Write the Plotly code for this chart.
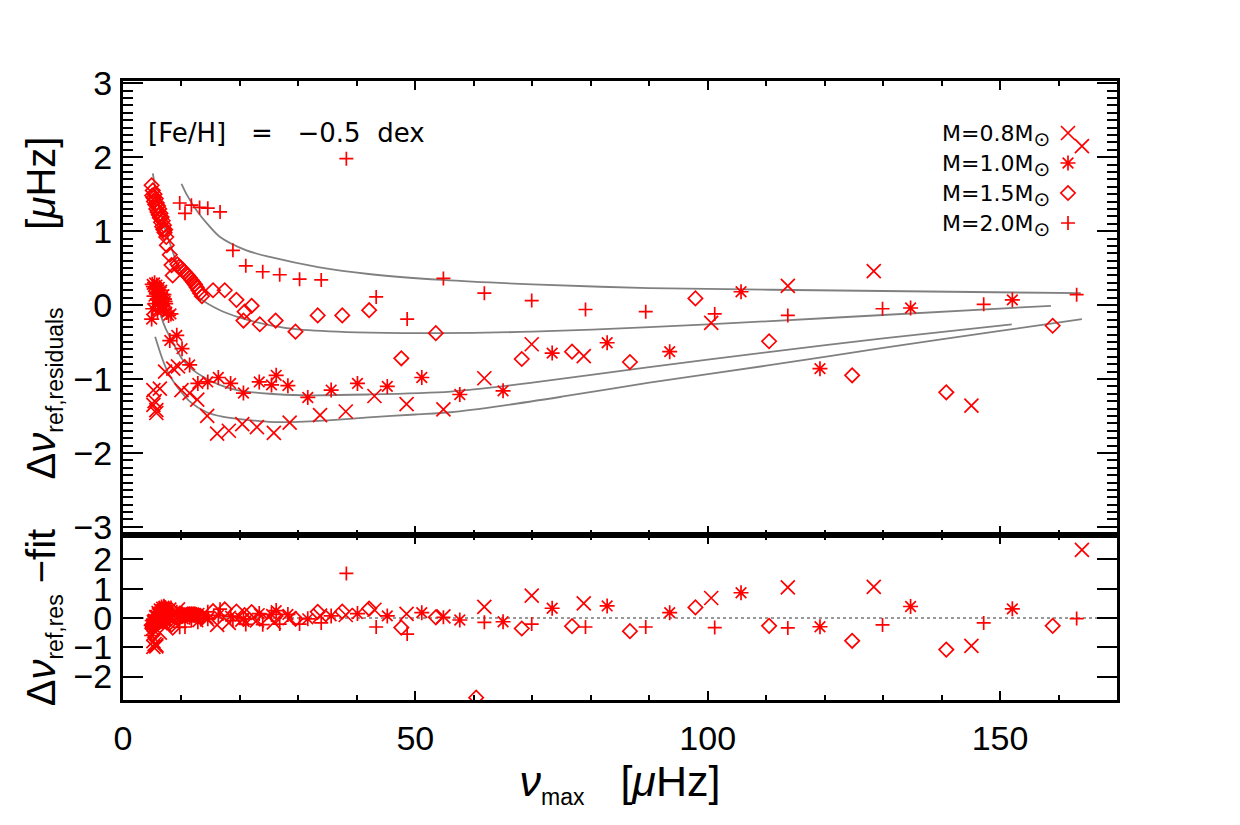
import plotly.graph_objects as go

# ---------------- data ----------------
# M = 0.8 Msun  (x symbols)
nu_08 = [5.2, 6.3, 5.2, 5.7, 5.7, 5.4, 7.2, 8.6, 9.4, 10.0, 11.4, 12.7, 14.4, 16.1, 18.1, 20.4,
         22.9, 25.8, 28.5, 33.7, 38.1, 43.0, 48.5, 54.8, 61.8, 69.9, 78.8, 100.6, 113.7, 128.4,
         145.1, 164.0]
res_08 = [-1.15, -1.13, -1.35, -1.42, -1.46, -1.30, -0.90, -0.86, -0.83, -1.15, -1.19, -1.28,
          -1.50, -1.74, -1.70, -1.61, -1.65, -1.73, -1.59, -1.49, -1.44, -1.23, -1.34, -1.41,
          -0.99, -0.53, -0.69, -0.24, 0.26, 0.46, -1.36, 2.15]
dfit_08 = [-0.79, -0.50, -0.99, -0.93, -0.97, -0.89, -0.04, 0.17, 0.29, 0.03, 0.11, 0.10, -0.05,
           -0.24, -0.17, -0.06, -0.08, -0.15, -0.01, 0.08, 0.10, 0.28, 0.14, 0.05, 0.38, 0.76,
           0.50, 0.68, 1.04, 1.06, -0.95, 2.32]

# M = 1.0 Msun  (asterisks)
nu_10 = [5.0, 5.2, 5.4, 5.6, 5.8, 6.0, 6.2, 6.4, 6.6, 6.8, 7.0, 7.2, 5.1, 5.5, 5.9, 6.3, 6.7, 7.1,
         7.5, 5.3, 5.7, 6.1, 6.5, 6.9, 7.3, 7.8, 8.2, 4.9,
         8.0, 9.2, 10.1, 11.4, 12.8, 14.5, 16.3, 18.4, 20.6, 23.3, 25.4, 26.2, 28.2, 31.6, 35.6,
         40.1, 45.2, 51.1, 57.6, 65.0, 73.4, 82.8, 93.5, 105.7, 119.2, 134.7, 152.1]
res_10 = [0.28, 0.25, 0.30, 0.22, 0.27, 0.18, 0.24, 0.15, 0.20, 0.10, 0.14, 0.05, -0.05, 0.02,
          -0.08, 0.05, -0.02, 0.08, -0.10, 0.12, 0.15, 0.08, 0.00, -0.06, 0.02, -0.14, -0.12, -0.19,
          -0.48, -0.41, -0.59, -0.81, -1.06, -1.04, -0.98, -1.06, -1.19, -1.04, -1.08, -0.95, -1.09,
          -1.25, -1.15, -1.06, -1.10, -0.98, -1.21, -1.16, -0.65, -0.51, -0.63, 0.18, -0.86, -0.04,
          0.07]
dfit_10 = [-0.09, -0.04, 0.09, 0.09, 0.22, 0.19, 0.31, 0.27, 0.37, 0.31, 0.40, 0.35, -0.38, -0.15,
           -0.10, 0.15, 0.17, 0.36, 0.25, -0.13, 0.06, 0.12, 0.15, 0.18, 0.34, 0.26, 0.34, -0.60,
           -0.05, 0.19, 0.14, 0.02, -0.13, -0.03, 0.09, 0.06, -0.03, 0.15, 0.12, 0.25, 0.12, -0.03,
           0.07, 0.15, 0.07, 0.18, -0.07, -0.13, 0.33, 0.41, 0.18, 0.86, -0.30, 0.39, 0.31]

# M = 1.5 Msun  (diamonds)
nu_15 = [4.9, 5.0, 5.1, 5.2, 5.3, 5.4, 5.5, 5.6, 5.7, 5.8, 5.9, 6.0, 6.1, 6.2, 6.3, 6.4, 6.5, 6.6,
         6.7, 6.8, 6.9, 7.0, 7.1, 7.2, 7.4, 7.5, 8.0, 8.3, 8.5,
         9.3, 9.6, 9.9, 10.2, 10.5, 10.8, 11.1, 11.4, 11.7, 12.0, 12.3, 12.6, 12.9, 13.2, 13.5,
         15.4, 17.4, 19.4, 20.8, 22.0, 20.6, 23.4, 26.1, 29.5, 33.3, 37.5, 42.1, 47.6, 53.5, 60.4,
         68.2, 76.8, 86.7, 97.9, 110.5, 124.7, 140.8, 159.0]
res_15 = [1.62, 1.48, 1.55, 1.45, 1.40, 1.50, 1.36, 1.44, 1.30, 1.38, 1.26, 1.34, 1.22, 1.30,
          1.18, 1.24, 1.12, 1.19, 1.06, 1.14, 1.02, 1.08, 0.98, 1.02, 0.92, 0.81, 0.68, 0.54, 0.40,
          0.55, 0.52, 0.50, 0.47, 0.45, 0.42, 0.40, 0.37, 0.34, 0.31, 0.28, 0.24, 0.20, 0.16, 0.12,
          0.20, 0.20, 0.07, -0.09, -0.01, -0.21, -0.26, -0.21, -0.36, -0.14, -0.14, -0.07, -0.72,
          -0.38, -3.20, -0.73, -0.63, -0.77, 0.09, -0.49, -0.95, -1.18, -0.28]
dfit_15 = [-0.25, -0.35, -0.23, -0.28, -0.29, -0.14, -0.24, -0.11, -0.21, -0.09, -0.17, -0.06,
           -0.14, -0.02, -0.10, -0.01, -0.10, 0.00, -0.10, 0.00, -0.09, 0.00, -0.08, -0.01, -0.06,
           -0.15, -0.16, -0.23, -0.33,
           0.00, 0.03, 0.05, 0.07, 0.09, 0.10, 0.12, 0.12, 0.12, 0.12, 0.12, 0.10, 0.09, 0.07, 0.04,
           0.23, 0.29, 0.22, 0.10, 0.20, -0.03, -0.02, 0.07, -0.03, 0.21, 0.22, 0.32, -0.33, 0.02,
           -2.72, -0.36, -0.28, -0.45, 0.36, -0.27, -0.78, -1.08, -0.27]

# M = 2.0 Msun  (plus signs)
nu_20 = [9.7, 10.6, 11.7, 13.1, 14.5, 16.6, 18.8, 21.0, 23.9, 26.8, 30.2, 33.9, 38.2, 43.3, 48.6,
         54.8, 61.8, 69.9, 79.1, 89.4, 101.2, 113.7, 129.9, 147.2, 163.1]
res_20 = [1.38, 1.24, 1.35, 1.32, 1.31, 1.26, 0.74, 0.53, 0.45, 0.41, 0.35, 0.34, 1.98, 0.11,
          -0.19, 0.36, 0.16, 0.06, -0.06, -0.09, -0.12, -0.14, -0.05, 0.01, 0.14]
dfit_20 = [-0.32, -0.31, -0.07, 0.09, 0.21, 0.30, -0.09, -0.22, -0.23, -0.21, -0.21, -0.17, 1.52,
           -0.31, -0.55, 0.02, -0.15, -0.21, -0.31, -0.31, -0.33, -0.34, -0.24, -0.17, -0.02]

# fitted relations (grey curves)
fitx_08 = [5.5, 6.6, 7.5, 8.6, 9.7, 11.5, 14.3, 17.0, 19.5, 22.0, 25.0, 30.0, 35.0, 42.0, 50.0,
           56.0, 65.0, 75.0, 90.0, 110.0, 130.0, 150.0, 164.0]
fity_08 = [-0.43, -0.70, -0.88, -1.03, -1.15, -1.31, -1.45, -1.51, -1.54, -1.56, -1.58, -1.58,
           -1.56, -1.52, -1.48, -1.45, -1.36, -1.24, -1.05, -0.82, -0.58, -0.35, -0.19]
fitx_10 = [5.2, 5.8, 6.5, 7.3, 8.3, 9.3, 10.3, 12.0, 13.7, 16.5, 19.5, 25.0, 30.7, 42.0, 56.0,
           70.0, 90.0, 110.0, 130.0, 152.0]
fity_10 = [0.29, 0.05, -0.15, -0.32, -0.47, -0.62, -0.75, -0.88, -0.97, -1.08, -1.15, -1.20,
           -1.22, -1.21, -1.17, -1.05, -0.84, -0.64, -0.45, -0.26]
fitx_15 = [5.1, 5.6, 6.3, 7.0, 8.0, 9.3, 10.9, 13.0, 16.6, 20.0, 25.0, 30.0, 40.0, 53.6, 70.0,
           90.0, 110.0, 130.0, 158.7]
fity_15 = [1.78, 1.55, 1.28, 1.08, 0.84, 0.55, 0.30, 0.10, -0.07, -0.17, -0.27, -0.33, -0.37,
           -0.38, -0.36, -0.30, -0.22, -0.135, -0.01]
fitx_20 = [10.0, 11.0, 12.6, 14.5, 16.6, 21.1, 25.1, 33.6, 42.0, 54.6, 70.0, 90.0, 130.0, 163.8]
fity_20 = [1.64, 1.48, 1.28, 1.09, 0.92, 0.74, 0.65, 0.51, 0.42, 0.34, 0.28, 0.23, 0.19, 0.16]

zero_x = [0, 170]
zero_y = [0, 0]

legend_labels = ["M=0.8M", "M=1.0M", "M=1.5M", "M=2.0M"]
feh_label = "[Fe/H]  \u00a0=\u00a0  \u22120.5 \u00a0dex"

# ---------------- layout helpers ----------------
W, H = 1240, 825
RED = "#ff0000"
GREY = "#808080"
FONT = "Liberation Sans, Arial, sans-serif"


def px_x(p):
    return p / W


def px_y(p):
    return 1 - p / H


series = [
    (nu_08, res_08, dfit_08, "x-thin", 14),
    (nu_10, res_10, dfit_10, "asterisk", 12.5),
    (nu_15, res_15, dfit_15, "diamond-open", 11),
    (nu_20, res_20, dfit_20, "cross-thin", 10),
]
fits = [(fitx_08, fity_08), (fitx_10, fity_10), (fitx_15, fity_15), (fitx_20, fity_20)]

fig = go.Figure()

for fx, fy in fits:
    fig.add_trace(go.Scatter(x=fx, y=fy, mode="lines", line=dict(color=GREY, width=1.8, shape="spline", smoothing=0.8),
                             xaxis="x", yaxis="y", showlegend=False, hoverinfo="skip"))

for nu, res, dfit, sym, size in series:
    mk = dict(symbol=sym, size=size, color=RED, line=dict(color=RED, width=1.7))
    fig.add_trace(go.Scatter(x=nu, y=res, mode="markers", marker=mk, xaxis="x", yaxis="y", showlegend=False))

fig.add_trace(go.Scatter(x=zero_x, y=zero_y, mode="lines", line=dict(color="#999999", width=2, dash="dot"),
                         xaxis="x2", yaxis="y2", showlegend=False, hoverinfo="skip"))
for nu, res, dfit, sym, size in series:
    mk = dict(symbol=sym, size=size, color=RED, line=dict(color=RED, width=1.7))
    fig.add_trace(go.Scatter(x=nu, y=dfit, mode="markers", marker=mk, xaxis="x2", yaxis="y2", showlegend=False))

# legend glyphs on a pixel-space overlay
leg_rows = [133, 163, 193, 223]
for (nu, res, dfit, sym, size), ry in zip(series, leg_rows):
    mk = dict(symbol=sym, size=size, color=RED, line=dict(color=RED, width=1.7))
    fig.add_trace(go.Scatter(x=[1068], y=[ry], mode="markers", marker=mk, xaxis="x3", yaxis="y3",
                             showlegend=False, hoverinfo="skip"))

xdom = [px_x(123), px_x(1117)]
axis_common = dict(showline=True, linecolor="black", linewidth=3, mirror="allticks", ticks="inside",
                   tickcolor="black", tickwidth=2, showgrid=False, zeroline=False, automargin=False,
                   tickfont=dict(family=FONT, size=34, color="black"))
x_minor = dict(dtick=10, ticklen=5, ticks="inside", tickwidth=2, tickcolor="black", showgrid=False)

fig.update_layout(
    width=W, height=H, margin=dict(l=0, r=0, t=0, b=0, autoexpand=False),
    paper_bgcolor="white", plot_bgcolor="rgba(0,0,0,0)", showlegend=False,
    xaxis=dict(domain=xdom, range=[0, 170], anchor="y", tickmode="linear", tick0=0, dtick=50,
               showticklabels=False, ticklen=9, minor=x_minor, **axis_common),
    yaxis=dict(domain=[px_y(535), px_y(81)], range=[-3.11, 3.03], anchor="x",
               tickmode="linear", tick0=0, dtick=1, ticklen=20, ticklabelstandoff=1,
               minor=dict(dtick=0.1, ticklen=10, ticks="inside", tickwidth=2, tickcolor="black", showgrid=False),
               title=dict(text="\u0394<i>\u03bd</i><sub><span style='font-size:23px'>ref,residuals</span></sub>"
                               "\u00a0\u00a0\u00a0\u00a0\u00a0\u00a0\u00a0[<i>\u03bc</i>Hz]",
                          font=dict(family=FONT, size=40, color="black"), standoff=6),
               **axis_common),
    xaxis2=dict(domain=xdom, range=[0, 170], anchor="y2", tickmode="linear", tick0=0, dtick=50,
                ticklen=9, ticklabelstandoff=6, minor=x_minor,
                title=dict(text="<i>\u03bd</i><sub><span style='font-size:23px'>max</span></sub>\u00a0\u00a0\u00a0[<i>\u03bc</i>Hz]",
                           font=dict(family=FONT, size=43, color="black"), standoff=6),
                **axis_common),
    yaxis2=dict(domain=[px_y(700), px_y(535)], range=[-2.8, 2.83], anchor="x2",
                tickmode="linear", tick0=0, dtick=1, ticklen=20, ticklabelstandoff=1,
                title=dict(text="\u0394<i>\u03bd</i><sub><span style='font-size:23px'>ref,res</span></sub> \u2212fit",
                           font=dict(family=FONT, size=40, color="black"), standoff=6),
                **axis_common),
    xaxis3=dict(domain=[0, 1], range=[0, W], anchor="y3", visible=False, fixedrange=True, automargin=False),
    yaxis3=dict(domain=[0, 1], range=[H, 0], anchor="x3", visible=False, fixedrange=True, automargin=False),
)

fig.add_annotation(x=px_x(146), y=px_y(133), xref="paper", yref="paper", text=feh_label,
                   showarrow=False, xanchor="left", yanchor="middle",
                   font=dict(family="DejaVu Sans, sans-serif", size=26, color="black"))
for lab, ry in zip(legend_labels, leg_rows):
    fig.add_annotation(x=px_x(1052), y=px_y(ry + 3), xref="paper", yref="paper",
                       text=lab + "<sub><span style='font-size:20px'>\u2299</span></sub>",
                       showarrow=False, xanchor="right", yanchor="middle",
                       font=dict(family="DejaVu Sans, sans-serif", size=22, color="black"))

fig.write_html("out.html", post_script="document.body.style.margin='0px';")
